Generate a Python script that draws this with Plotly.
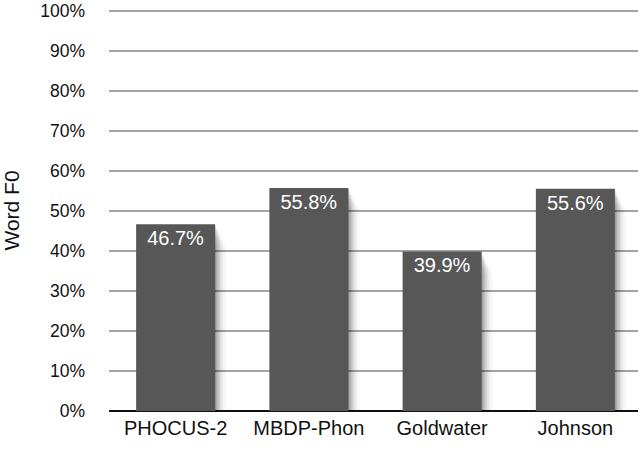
import plotly.graph_objects as go

categories = ["PHOCUS-2", "MBDP-Phon", "Goldwater", "Johnson"]
values = [46.7, 55.8, 39.9, 55.6]
labels = ["46.7%", "55.8%", "39.9%", "55.6%"]
y_ticks = list(range(0, 101, 10))
y_tick_labels = [f"{v}%" for v in y_ticks]

FONT = "Liberation Sans, Arial, Helvetica, sans-serif"
BAR_W = 0.593

fig = go.Figure()

# soft drop shadow: several translucent layers shifted right/down
shadow_layers = [(0.006, 0.11), (0.016, 0.09), (0.026, 0.075), (0.036, 0.06),
                 (0.046, 0.05), (0.058, 0.04), (0.072, 0.028), (0.086, 0.018)]
for i, (dx, op) in enumerate(shadow_layers):
    fig.add_trace(go.Bar(
        x=categories, y=[v - 0.3 * i for v in values], base=-0.4 * (i + 1),
        width=BAR_W, offset=-BAR_W / 2 + dx,
        marker=dict(color=f"rgba(0,0,0,{op})", line=dict(width=0)),
        hoverinfo="skip", showlegend=False, cliponaxis=False,
    ))

fig.add_trace(go.Bar(
    x=categories, y=values, width=BAR_W, offset=-BAR_W / 2,
    marker=dict(color="#575757", line=dict(width=0)),
    text=labels, textposition="inside", insidetextanchor="end",
    textangle=0, textfont=dict(color="white", size=20, family=FONT),
    cliponaxis=False, showlegend=False,
))

fig.update_layout(
    width=638, height=449,
    margin=dict(l=109, r=0, t=10, b=38),
    paper_bgcolor="white", plot_bgcolor="white",
    barmode="overlay",
    font=dict(family=FONT, color="#111111"),
    xaxis=dict(
        type="category", range=[-0.5, 3.47],
        showgrid=False, showline=False, zeroline=False,
        tickfont=dict(size=20, color="#111111"),
        ticks="", ticklabelstandoff=3,
    ),
    yaxis=dict(
        range=[0, 100.3], tickvals=y_ticks, ticktext=y_tick_labels,
        showgrid=True, gridcolor="#a3a3a3", gridwidth=2,
        zeroline=True, zerolinecolor="#111111", zerolinewidth=2,
        showline=False, ticks="", ticklabelstandoff=23,
        tickfont=dict(size=17.5, color="#111111"),
        title=dict(text="Word F0", font=dict(size=21, color="#111111"), standoff=14),
    ),
)

fig.write_html("out.html", config={"displayModeBar": False},
               post_script="document.body.style.margin='0';")
